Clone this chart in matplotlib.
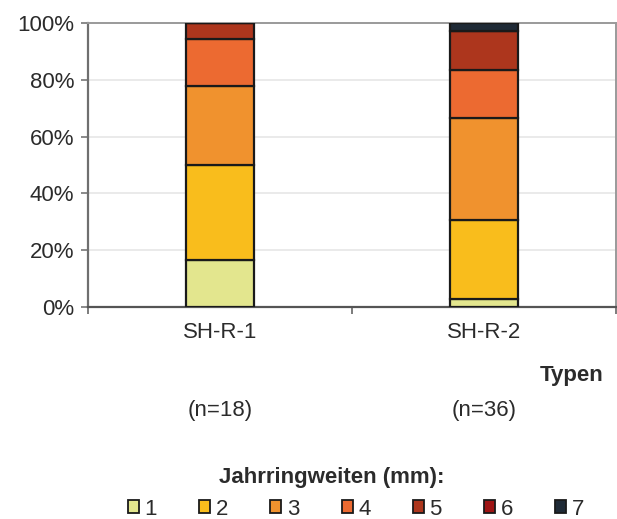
import matplotlib
matplotlib.use("Agg")
import matplotlib.pyplot as plt
from matplotlib.patches import Rectangle
import numpy as np

plt.rcParams['font.family'] = ['Liberation Sans', 'DejaVu Sans']

# Daten: Anteile der Jahrringweiten-Klassen je Typ (Anzahl Proben)
typen = ["SH-R-1", "SH-R-2"]
n_proben = [18, 36]
klassen = ["1", "2", "3", "4", "5", "6", "7"]
anzahl_r1 = [3, 6, 5, 3, 1, 0, 0]
anzahl_r2 = [1, 10, 13, 6, 5, 0, 1]
farben = ["#e3e68e", "#f9bd1c", "#f0922e", "#ec6a31", "#ad361d", "#9e1414", "#1f2a36"]

anteile = np.array([anzahl_r1, anzahl_r2], dtype=float).T
anteile = anteile / anteile.sum(axis=0) * 100

textfarbe = "#2b2b2b"
groesse = 16

fig = plt.figure(figsize=(6.17, 5.19), dpi=100)
ax = fig.add_axes([0.1426, 0.4085, 0.8555, 0.5472])

x = np.arange(len(typen))
unten = np.zeros(len(typen))
for i, kl in enumerate(klassen):
    ax.bar(x, anteile[i], width=0.255, bottom=unten, color=farben[i],
           edgecolor="#1a1a1a", linewidth=1.6, zorder=3, label=kl)
    unten += anteile[i]

ax.set_xlim(-0.5, 1.5)
ax.set_ylim(0, 100)
ax.set_yticks(np.arange(0, 101, 20))
ax.set_yticklabels([f"{v}%" for v in range(0, 101, 20)])
ax.yaxis.grid(True, color="#e6e6e6", linewidth=1.2, zorder=0)

ax.set_xticks(x)
ax.set_xticklabels(typen)
ax.set_xticks([-0.5, 0.5, 1.5], minor=True)
ax.tick_params(axis="x", which="major", length=0, pad=11, labelsize=groesse, labelcolor=textfarbe)
ax.tick_params(axis="x", which="minor", length=5, width=1.2, color="#666666", direction="out")
ax.tick_params(axis="y", length=5, width=1.2, color="#777777", pad=5, labelsize=groesse, labelcolor=textfarbe)

ax.spines["left"].set_color("#6f6f6f")
ax.spines["left"].set_linewidth(1.6)
ax.spines["bottom"].set_color("#555555")
ax.spines["bottom"].set_linewidth(1.6)
ax.spines["top"].set_color("#9a9a9a")
ax.spines["top"].set_linewidth(1.4)
ax.spines["right"].set_color("#9a9a9a")
ax.spines["right"].set_linewidth(1.4)

# Achsentitel und Stichprobenumfang
fig.text(0.927, 0.277, "Typen", ha="center", va="center", fontsize=groesse,
         fontweight="bold", color=textfarbe)
for xi, n in zip(x, n_proben):
    xf = ax.transData.transform((xi, 0))[0] / fig.bbox.width
    fig.text(xf, 0.21, f"(n={n})", ha="center", va="center", fontsize=groesse, color=textfarbe)

# Legende
fig.text(0.538, 0.079, "Jahrringweiten (mm):", ha="center", va="center",
         fontsize=groesse, fontweight="bold", color=textfarbe)
handles = [Rectangle((0, 0), 1, 1, facecolor=f, edgecolor="#1a1a1a", linewidth=1.3)
           for f in farben]
leg = fig.legend(handles, klassen, loc="center", bbox_to_anchor=(0.577, 0.019),
                 ncol=7, frameon=False, fontsize=groesse, handlelength=0.5, handleheight=0.5,
                 handletextpad=0.25, columnspacing=1.9, borderpad=0)
for t in leg.get_texts():
    t.set_color(textfarbe)

fig.savefig("out.png", dpi=100)
